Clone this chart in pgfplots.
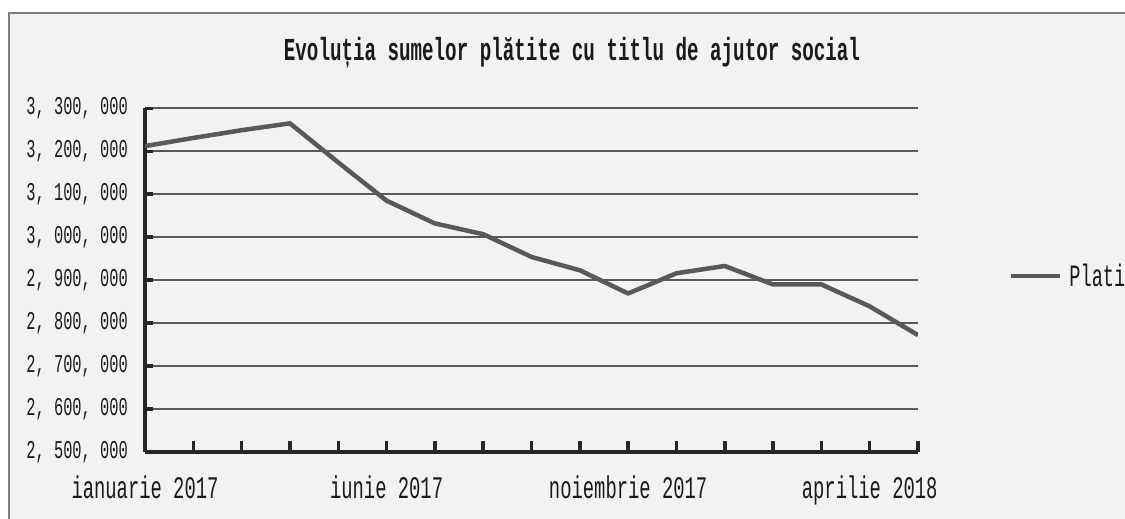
\documentclass[border=0pt]{standalone}
\usepackage{pgfplots}
\pgfplotsset{compat=1.18}
\usepackage{pgfplotstable}
\usepackage{fontspec}
\setmainfont{Liberation Serif}
\newfontfamily\cf[FakeStretch=0.6]{Liberation Mono}
\definecolor{bgc}{HTML}{F2F2F2}
\definecolor{axc}{HTML}{262626}
\definecolor{gridc}{HTML}{595959}
\definecolor{linec}{HTML}{595959}
\definecolor{txt}{HTML}{1A1A1A}
\definecolor{framec}{HTML}{7F7F7F}

\pgfplotstableread{
x y
0 3212000
1 3231000
2 3249000
3 3265000
4 3174000
5 3085000
6 3032000
7 3007000
8 2954000
9 2923000
10 2869000
11 2916000
12 2933000
13 2890000
14 2890000
15 2839000
16 2772000
}\datatable

\begin{document}
\begin{tikzpicture}[x=1pt,y=1pt]
\useasboundingbox (0,0) rectangle (1125,519);
\fill[white] (0,0) rectangle (1125,519);
\fill[bgc] (9,0) rectangle (1125,506);
\draw[color=framec, line width=1.5pt] (9,0) -- (9,506) -- (1125,506);
\node[font=\cf\bfseries\fontsize{32}{36}\selectfont, text=txt, anchor=base, inner sep=0pt] at (572,458) {Evoluția sumelor plătite cu titlu de ajutor social};
\begin{axis}[
  at={(145pt,67pt)}, anchor=south west,
  scale only axis, width=773pt, height=343.7pt,
  xmin=0, xmax=16, ymin=2500000, ymax=3300000,
  axis lines=left,
  axis line style={-, line width=4.5pt, color=axc},
  xtick={0,...,16},
  xticklabels={ianuarie 2017,,,,,iunie 2017,,,,,noiembrie 2017,,,,,aprilie 2018,},
  ytick={2500000,2600000,2700000,2800000,2900000,3000000,3100000,3200000,3300000},
  scaled y ticks=false,
  yticklabel style={font=\cf\fontsize{25.6}{28}\selectfont, text=txt, inner sep=0pt, anchor=east, xshift=-17pt,
    /pgf/number format/fixed, /pgf/number format/precision=0,
    /pgf/number format/1000 sep={,\ }, /pgf/number format/assume math mode=true},
  xticklabel style={font=\cf\fontsize{31.4}{34}\selectfont, text=txt, inner sep=0pt, anchor=north, yshift=-24pt},
  tick align=inside,
  major tick style={line width=3.5pt, color=axc},
  major tick length=9pt,
  x tick style={/pgfplots/major tick length=11pt},
  y tick style={/pgfplots/major tick length=8pt},
  ymajorgrids,
  major grid style={line width=2pt, color=gridc},
  legend style={at={(1.1177,0.512)}, anchor=west, draw=none, fill=none, inner sep=0pt, outer sep=0pt,
    font=\cf\fontsize{31}{34}\selectfont, text=txt, nodes={inner sep=0pt}, column sep=7pt},
  legend image code/.code={\draw[#1] (0pt,0pt) -- (49pt,0pt);},
]
\addplot[color=linec, line width=4.5pt, line join=round] table[x=x, y=y] {\datatable};
\addlegendentry{Plati}
\end{axis}
\end{tikzpicture}
\end{document}
